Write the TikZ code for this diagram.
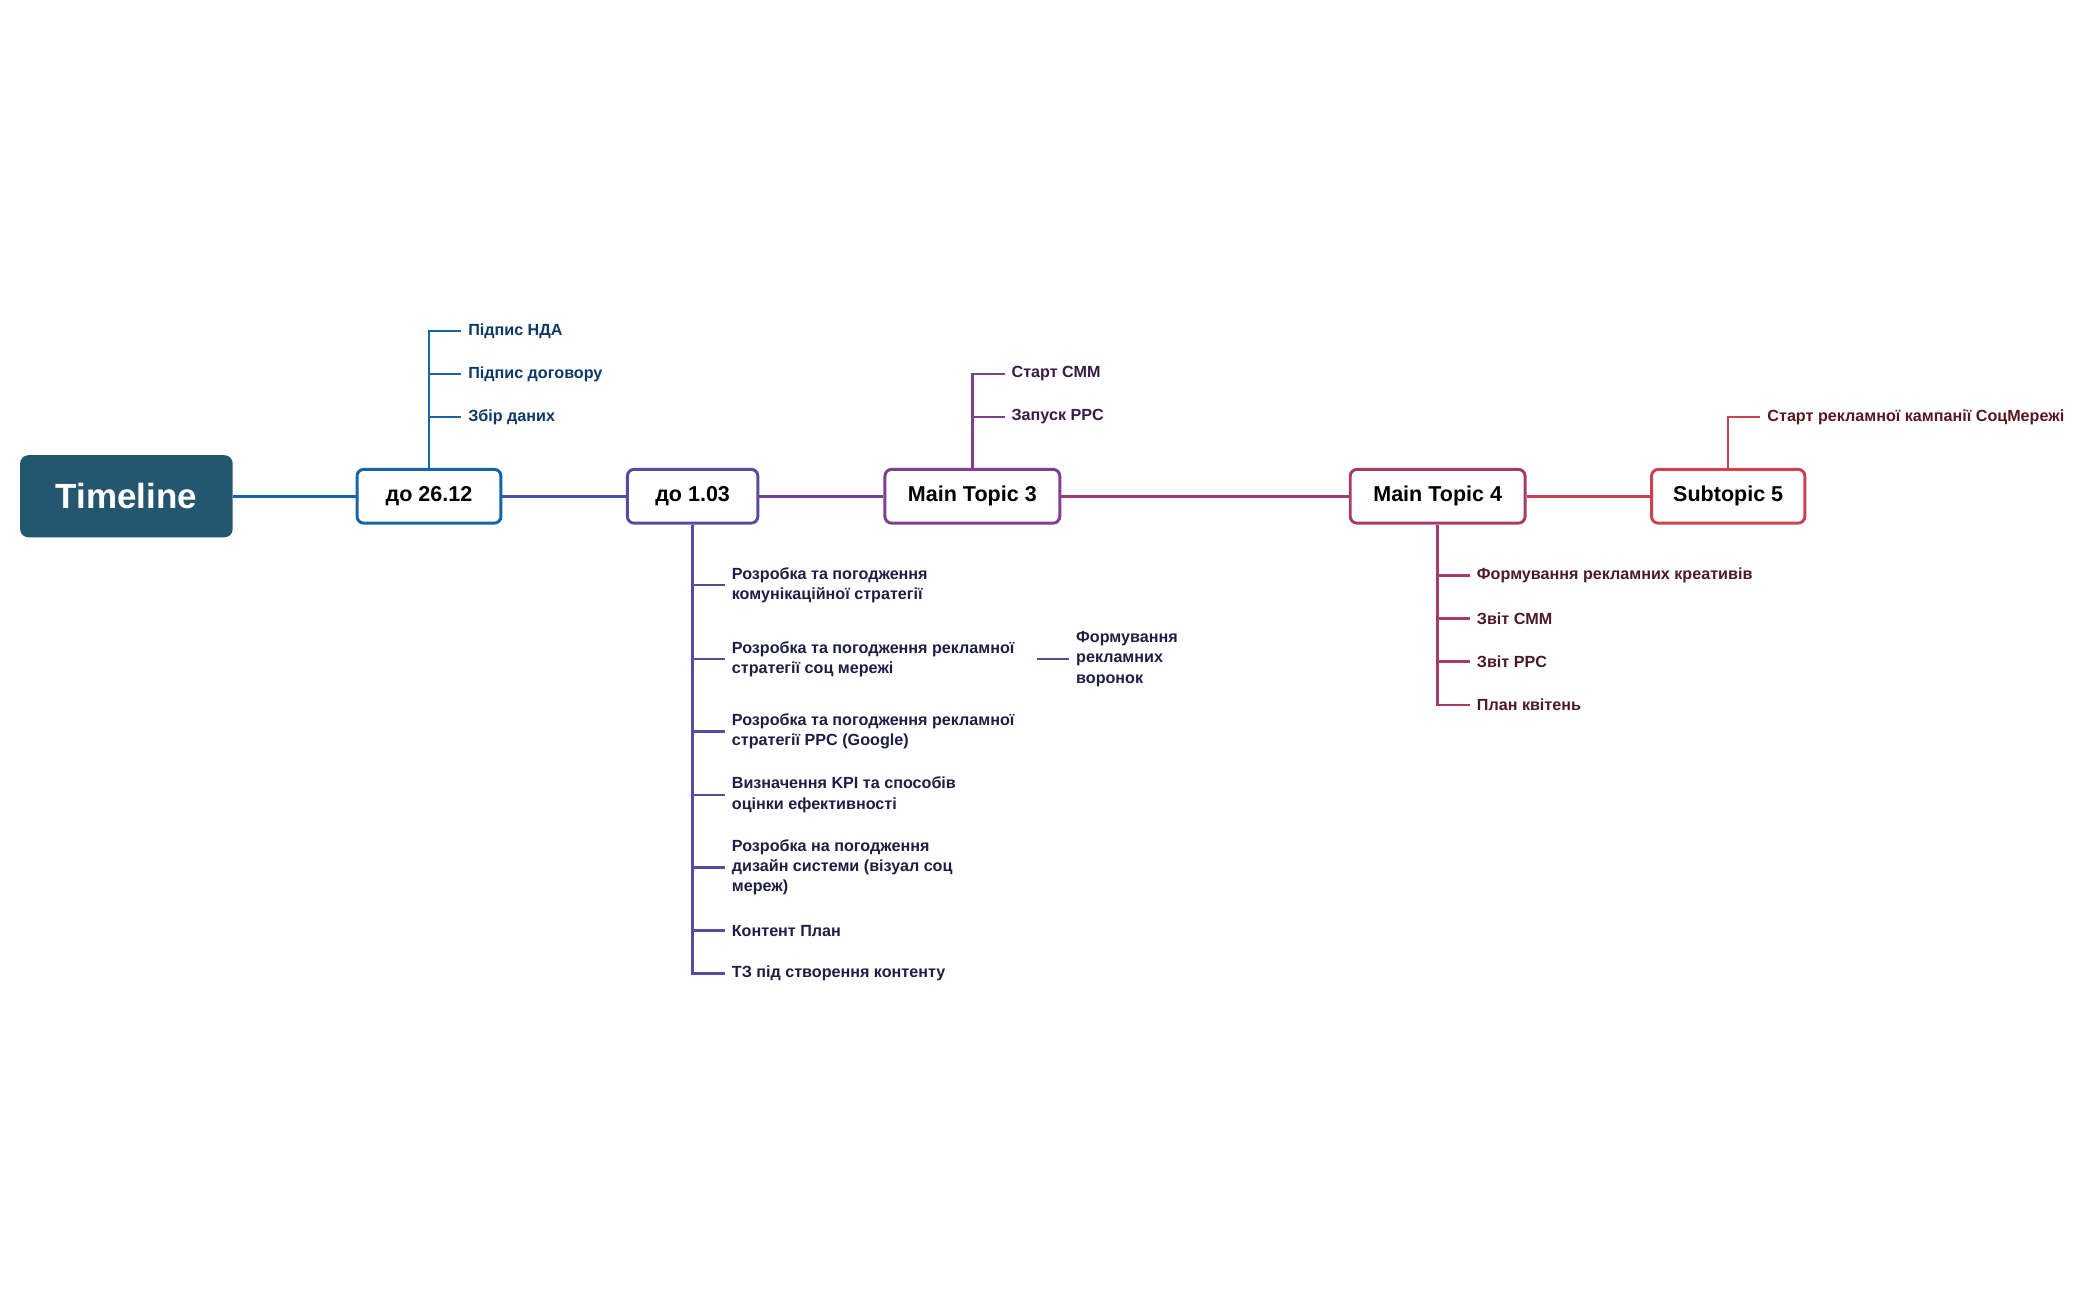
\documentclass[tikz,border=0pt]{standalone}
\usepackage{fontspec}
\setmainfont{Liberation Sans}
\begin{document}
\begin{tikzpicture}[x=1pt,y=-1pt,
  topic/.style={draw, rounded corners=5pt, line width=2.2pt, fill=white, minimum height=40pt, inner xsep=8pt, font=\fontsize{16}{18}\selectfont\bfseries, text=black},
  edge/.style={line width=2.4pt},
  br/.style={line width=1.8pt},
  leaf/.style={anchor=west, inner sep=0pt, align=left, font=\fontsize{12}{15}\selectfont\bfseries}]
\definecolor{cA}{HTML}{1565A8}
\definecolor{cB}{HTML}{584A9E}
\definecolor{cC}{HTML}{7E3F8F}
\definecolor{cD}{HTML}{A83A6A}
\definecolor{cE}{HTML}{D0404E}
\definecolor{tA}{HTML}{0B3A66}
\definecolor{tB}{HTML}{1E1E45}
\definecolor{tC}{HTML}{3A1A45}
\definecolor{tD}{HTML}{4A1A2A}
\definecolor{tE}{HTML}{5A1620}
\definecolor{root}{HTML}{24566F}
\useasboundingbox (0,0) rectangle (1560,966);
\node[fill=root, rounded corners=6pt, minimum width=158pt, minimum height=61pt, text=white, font=\fontsize{26}{30}\selectfont\bfseries] (root) at (94,369) {Timeline};
\node[topic, draw=cA, minimum width=107pt] (t1) at (319,369) {до 26.12};
\node[topic, draw=cB, minimum width=97pt] (t2) at (515,369) {до 1.03};
\node[topic, draw=cC, minimum width=130pt] (t3) at (723,369) {Main Topic 3};
\node[topic, draw=cD, minimum width=130pt] (t4) at (1069,369) {Main Topic 4};
\node[topic, draw=cE, minimum width=114pt] (t5) at (1285,369) {Subtopic 5};
\draw[edge, color=cA] (root) -- (t1);
\draw[edge, color=cB!70!cA] (t1) -- (t2);
\draw[edge, color=cC!80!cB] (t2) -- (t3);
\draw[edge, color=cD!80!cC] (t3) -- (t4);
\draw[edge, color=cE!85!cD] (t4) -- (t5);
% t1 children
\node[leaf, text=tA] (a1) at (348,246) {Підпис НДА};
\node[leaf, text=tA] (a2) at (348,278) {Підпис договору};
\node[leaf, text=tA] (a3) at (348,310) {Збір даних};
\foreach \n in {a1,a2,a3} \draw[br, cA] (t1.north) |- ([xshift=-5pt]\n.west);
% t3 children
\node[leaf, text=tC] (c1) at (752,278) {Старт СММ};
\node[leaf, text=tC] (c2) at (752,310) {Запуск PPC};
\foreach \n in {c1,c2} \draw[br, cC] (t3.north) |- ([xshift=-5pt]\n.west);
% t5 child
\node[leaf, text=tE] (e1) at (1314,310) {Старт рекламної кампанії СоцМережі};
\draw[br, cE] (t5.north) |- ([xshift=-5pt]e1.west);
% t2 children
\node[leaf, text=tB] (b1) at (544,435) {Розробка та погодження\\комунікаційної стратегії};
\node[leaf, text=tB] (b2) at (544,490) {Розробка та погодження рекламної\\стратегії соц мережі};
\node[leaf, text=tB] (b3) at (544,544) {Розробка та погодження рекламної\\стратегії PPC (Google)};
\node[leaf, text=tB] (b4) at (544,591) {Визначення KPI та способів\\оцінки ефективності};
\node[leaf, text=tB] (b5) at (544,645) {Розробка на погодження\\дизайн системи (візуал соц\\мереж)};
\node[leaf, text=tB] (b6) at (544,692) {Контент План};
\node[leaf, text=tB] (b7) at (544,724) {ТЗ під створення контенту};
\foreach \n in {b1,b2,b3,b4,b5,b6,b7} \draw[br, cB] (t2.south) |- ([xshift=-5pt]\n.west);
\node[leaf, text=tB] (b21) at (800,490) {Формування\\рекламних\\воронок};
\coordinate (b2e) at (771,490);
\draw[br, cB] (b2e) -- ([xshift=-5pt]b21.west);
% t4 children
\node[leaf, text=tD] (d1) at (1098,428) {Формування рекламних креативів};
\node[leaf, text=tD] (d2) at (1098,460) {Звіт СММ};
\node[leaf, text=tD] (d3) at (1098,492) {Звіт PPC};
\node[leaf, text=tD] (d4) at (1098,524) {План квітень};
\foreach \n in {d1,d2,d3,d4} \draw[br, cD] (t4.south) |- ([xshift=-5pt]\n.west);
\end{tikzpicture}
\end{document}
